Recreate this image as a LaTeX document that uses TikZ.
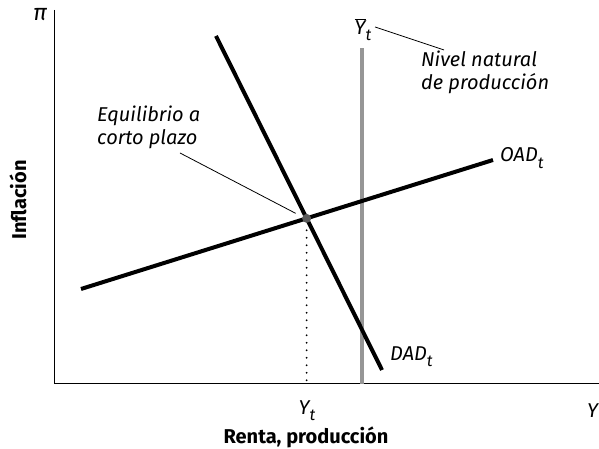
\documentclass[tikz,border=0pt]{standalone}
\usepackage{fontspec}
\setmainfont{Fira Sans}
\usepackage{xcolor}
\usepackage{tikz}
\usetikzlibrary{calc}
\definecolor{naturalgray}{RGB}{150,150,150}
\definecolor{dotgray}{RGB}{90,90,90}
\newcommand{\CurveLabelFont}{\fontsize{20}{23}\selectfont\itshape}
\newcommand{\AxisTitleFont}{\fontsize{20}{23}\selectfont\bfseries}
\newcommand{\SubLetter}[1]{\raisebox{-0.32em}{\fontsize{16}{18}\selectfont\itshape #1}}

\begin{document}
\begin{tikzpicture}[x=1pt,y=1pt]
        \useasboundingbox (0,0) rectangle (599,449);
        % axes
        \coordinate (origin) at (54,65);
        \coordinate (ytop) at (54,439);
        \coordinate (xend) at (605,65);
        \draw[line width=1pt] (ytop) -- (origin) -- (xend);
        % natural output
        \coordinate (natbot) at (362,65);
        \coordinate (nattop) at (362,401);
        \draw[naturalgray,line width=4pt] (natbot) -- (nattop);
        % curves
        \coordinate (dadtop) at (216,413);
        \coordinate (dadbot) at (382,79);
        \coordinate (oadleft) at (81,160);
        \coordinate (oadright) at (493,289);
        \draw[line width=4pt] (dadtop) -- (dadbot);
        \draw[line width=4pt] (oadleft) -- (oadright);
        \coordinate (eq) at (intersection of dadtop--dadbot and oadleft--oadright);
        \draw[line width=2pt,line cap=round,dash pattern=on 0pt off 7.5pt] ($(eq)+(0,-12)$) -- (eq |- origin);
        \fill[dotgray] (eq) circle (4.5pt);
        % labels
        \node[anchor=west,inner sep=0pt,font=\CurveLabelFont] (oadlabel) at (500,291) {OAD\SubLetter{t}};
        \node[anchor=west,inner sep=0pt,font=\CurveLabelFont] (dadlabel) at (390,92) {DAD\SubLetter{t}};
        \node[inner sep=0pt,font=\CurveLabelFont] (ybar) at (363,419) {$\overline{\mbox{\CurveLabelFont Y}}$\SubLetter{t}};
        \node[inner sep=0pt,font=\CurveLabelFont] (ytlabel) at (307,38) {Y\SubLetter{t}};
        \node[anchor=west,inner sep=0pt,font=\CurveLabelFont] (ylabel) at (587,38) {Y};
        \node[inner sep=0pt,font=\fontsize{23}{26}\selectfont\itshape] (pilabel) at (40,434) {π};
        \node[anchor=west,align=left,inner sep=0pt,font=\CurveLabelFont] (natural) at (421,377)
          {Nivel natural\\de producción};
        \node[anchor=west,align=left,inner sep=0pt,font=\CurveLabelFont] (equilibrio) at (97,322)
          {Equilibrio a\\corto plazo};
        \draw[line width=0.8pt] (375,422) -- (444,399);
        \draw[line width=0.8pt] (180,296) -- ($(eq)+(-11,5)$);
        \node[inner sep=0pt,font=\AxisTitleFont] (xtitle) at (306,12) {Renta, producción};
        \node[rotate=90,inner sep=0pt,font=\AxisTitleFont] (ytitle) at (18,249) {Inflación};
      \end{tikzpicture}
\end{document}
